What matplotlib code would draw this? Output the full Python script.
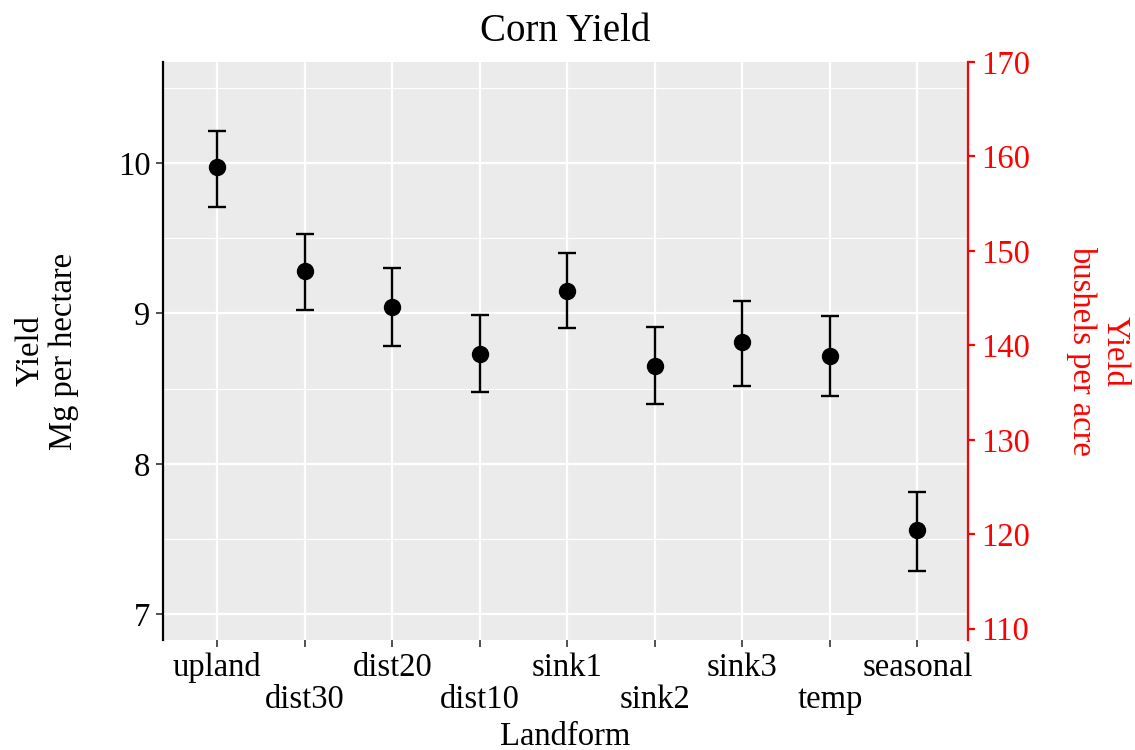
import matplotlib
matplotlib.use("Agg")
import matplotlib.pyplot as plt
import numpy as np

plt.rcParams['font.family'] = ['Liberation Serif', 'DejaVu Serif']

# data (Mg per hectare)
landforms = ['upland', 'dist30', 'dist20', 'dist10', 'sink1', 'sink2', 'sink3', 'temp', 'seasonal']
yield_mean = [9.97, 9.28, 9.04, 8.73, 9.15, 8.65, 8.81, 8.72, 7.56]
yield_low = [9.71, 9.02, 8.78, 8.48, 8.90, 8.40, 8.52, 8.45, 7.29]
yield_high = [10.21, 9.53, 9.30, 8.99, 9.40, 8.91, 9.08, 8.98, 7.81]
bu_per_mg = 15.93  # bushels/acre per Mg/ha for corn

x = np.arange(len(landforms))
lower_err = np.array(yield_mean) - np.array(yield_low)
upper_err = np.array(yield_high) - np.array(yield_mean)

fs = 23.5

fig = plt.figure(figsize=(11.35, 7.5), dpi=100)
ax = fig.add_axes([0.1436, 0.1467, 0.853 - 0.1436, 0.9173 - 0.1467])
ax.set_facecolor('#EBEBEB')

ax.errorbar(x, yield_mean, yerr=[lower_err, upper_err], fmt='o', color='black',
            markersize=11.5, elinewidth=1.7, capsize=6.2, capthick=1.7, zorder=3)

ylim = (6.83, 10.67)
ax.set_ylim(ylim)
ax.set_xlim(-0.62, 8.58)
ax.set_yticks([7, 8, 9, 10])
ax.set_yticks([7.5, 8.5, 9.5, 10.5], minor=True)
ax.grid(True, which='major', color='white', linewidth=1.6)
ax.grid(True, which='minor', axis='y', color='white', linewidth=0.8)
ax.set_axisbelow(True)

# staggered x labels
labels = [lab if i % 2 == 0 else '\n' + lab for i, lab in enumerate(landforms)]
ax.set_xticks(x)
ax.set_xticklabels(labels, fontsize=fs, linespacing=1.05)
ax.tick_params(axis='x', length=5, width=1.2, color='#333333', pad=4)
ax.tick_params(axis='y', which='major', length=5, width=1.2, color='#333333', labelsize=fs, pad=4)
ax.tick_params(axis='y', which='minor', length=0)

for s in ['top', 'right', 'bottom']:
    ax.spines[s].set_visible(False)
ax.spines['left'].set_linewidth(1.6)
ax.spines['left'].set_color('black')

ax.set_xlabel('Landform', fontsize=fs, labelpad=5)
ax.set_ylabel('Yield\nMg per hectare', fontsize=fs, labelpad=28, linespacing=1.1)
ax.set_title('Corn Yield', fontsize=28, pad=15)

# secondary axis in bushels per acre
ax2 = ax.twinx()
ax2.set_ylim(ylim[0] * bu_per_mg, ylim[1] * bu_per_mg)
ax2.set_yticks([110, 120, 130, 140, 150, 160, 170])
for s in ['top', 'left', 'bottom']:
    ax2.spines[s].set_visible(False)
ax2.spines['right'].set_color('red')
ax2.spines['right'].set_linewidth(1.6)
ax2.tick_params(axis='y', colors='red', length=5, width=1.6, labelsize=fs, pad=4)
ax2.set_ylabel('Yield\nbushels per acre', fontsize=fs, color='red', rotation=270,
               labelpad=72, linespacing=1.1)

fig.savefig('out.png', dpi=100)
